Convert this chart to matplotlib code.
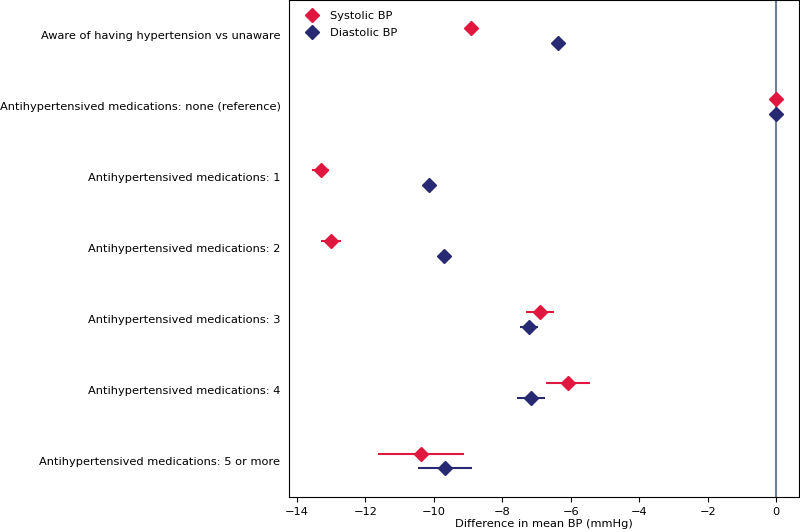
import numpy as np
import matplotlib
matplotlib.use("Agg")
import matplotlib.pyplot as plt

labels = ["Aware of having hypertension vs unaware",
          "Antihypertensived medications: none (reference)",
          "Antihypertensived medications: 1",
          "Antihypertensived medications: 2",
          "Antihypertensived medications: 3",
          "Antihypertensived medications: 4",
          "Antihypertensived medications: 5 or more"]

sys_mean = [-8.92, 0.0, -13.3, -13.0, -6.90, -6.09, -10.38]
sys_lo = [-9.10, 0.0, -13.55, -13.30, -7.31, -6.73, -11.64]
sys_hi = [-8.74, 0.0, -13.05, -12.70, -6.48, -5.44, -9.13]

dia_mean = [-6.37, 0.0, -10.14, -9.70, -7.22, -7.15, -9.68]
dia_lo = [-6.47, 0.0, -10.24, -9.85, -7.48, -7.56, -10.47]
dia_hi = [-6.27, 0.0, -10.04, -9.55, -6.96, -6.74, -8.88]

red = "#e0173f"
navy = "#272a72"
fs = 8.2

fig = plt.figure(figsize=(8, 5.32), dpi=100)
ax = fig.add_axes([0.361, 0.066, 0.638, 0.934])

y = np.arange(len(labels))
sm = np.array(sys_mean)
dm = np.array(dia_mean)

ax.axvline(0, color="#6f7f95", lw=1.5, zorder=1)
ax.errorbar(sm, y - 0.1, xerr=[sm - np.array(sys_lo), np.array(sys_hi) - sm],
            fmt="D", color=red, ms=7, lw=1.5, label="Systolic BP", zorder=3)
ax.errorbar(dm, y + 0.1, xerr=[dm - np.array(dia_lo), np.array(dia_hi) - dm],
            fmt="D", color=navy, ms=7, lw=1.5, label="Diastolic BP", zorder=3)

ax.set_yticks(y)
ax.set_yticklabels(labels, fontsize=fs)
ax.tick_params(axis="y", length=0, pad=6)
ax.set_ylim(6.5, -0.5)
ax.set_xlim(-14.23, 0.67)
ax.set_xticks([-14, -12, -10, -8, -6, -4, -2, 0])
ax.set_xticklabels(["\u221214", "\u221212", "\u221210", "\u22128", "\u22126", "\u22124", "\u22122", "0"],
                   fontsize=fs)
ax.set_xlabel("Difference in mean BP (mmHg)", fontsize=fs, labelpad=2)

ax.legend(loc="upper left", frameon=False, fontsize=fs, handletextpad=0.6,
          borderaxespad=0.6, labelspacing=0.6)

fig.savefig("out.png")
